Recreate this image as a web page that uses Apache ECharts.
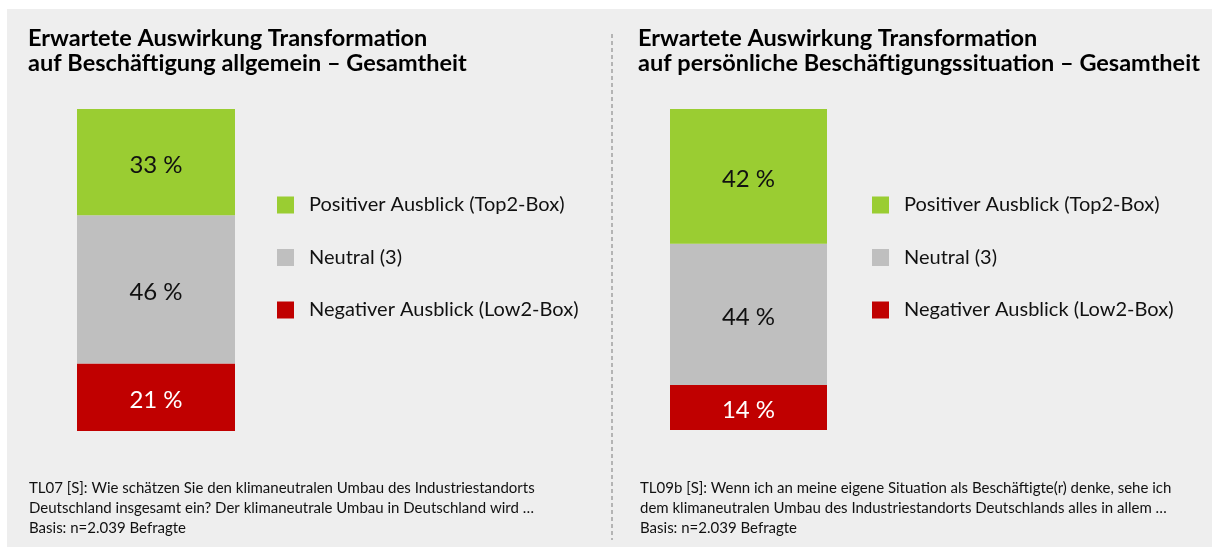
<!DOCTYPE html>
<html>
<head>
<meta charset="utf-8">
<script src="https://cdn.jsdelivr.net/npm/echarts@6/dist/echarts.min.js"></script>
<style>
  html, body { margin: 0; padding: 0; background: #fff; }
  #chart { width: 1212px; height: 547px; }
</style>
</head>
<body>
<div id="chart"></div>
<script>
// Daten
var categories = ['Gesamtheit'];
var seriesNames = ['Positiver Ausblick (Top2-Box)', 'Neutral (3)', 'Negativer Ausblick (Low2-Box)'];
var allgemeinValues = [33, 46, 21];
var persoenlichValues = [42, 44, 14];
var seriesColors = ['#9acd32', '#bfbfbf', '#c00000'];
var labelColors = ['#111', '#111', '#fff'];

var titles = [
  'Erwartete Auswirkung Transformation\nauf Beschäftigung allgemein – Gesamtheit',
  'Erwartete Auswirkung Transformation\nauf persönliche Beschäftigungssituation – Gesamtheit'
];
var footnotes = [
  'TL07 [S]: Wie schätzen Sie den klimaneutralen Umbau des Industriestandorts\nDeutschland insgesamt ein? Der klimaneutrale Umbau in Deutschland wird …\nBasis: n=2.039 Befragte',
  'TL09b [S]: Wenn ich an meine eigene Situation als Beschäftigte(r) denke, sehe ich\ndem klimaneutralen Umbau des Industriestandorts Deutschlands alles in allem …\nBasis: n=2.039 Befragte'
];

var font = 'Lato';
var chart = echarts.init(document.getElementById('chart'));

function buildSeries(values, idx) {
  var out = [];
  // von unten nach oben stapeln: negativ, neutral, positiv
  for (var i = values.length - 1; i >= 0; i--) {
    out.push({
      name: seriesNames[i],
      type: 'bar',
      stack: 'stack' + idx,
      xAxisIndex: idx,
      yAxisIndex: idx,
      barWidth: '100%',
      itemStyle: { color: seriesColors[i] },
      label: {
        show: true,
        position: 'inside',
        offset: [0, 3],
        formatter: '{c} %',
        fontFamily: font,
        fontSize: 24,
        color: labelColors[i]
      },
      data: [values[i]]
    });
  }
  return out;
}

function legend(left) {
  return {
    orient: 'vertical',
    left: left,
    top: 190,
    icon: 'rect',
    itemWidth: 17,
    itemHeight: 17,
    itemGap: 32.5,
    selectedMode: false,
    data: seriesNames,
    textStyle: {
      fontFamily: font,
      fontSize: 20,
      lineHeight: 17,
      color: '#111',
      padding: [0, 0, 0, 10]
    }
  };
}

var titleStyle = { fontFamily: font, fontWeight: 'bold', fontSize: 23.5, lineHeight: 25, color: '#000' };
var noteStyle = { fontFamily: font, fontWeight: 'normal', fontSize: 15, lineHeight: 20, color: '#111' };

chart.setOption({
  animation: false,
  backgroundColor: '#fff',
  title: [
    { text: titles[0], left: 28, top: 26, padding: 0, textStyle: titleStyle },
    { text: titles[1], left: 638, top: 26, padding: 0, textStyle: titleStyle },
    { text: footnotes[0], left: 29, top: 478, padding: 0, textStyle: noteStyle },
    { text: footnotes[1], left: 640, top: 478, padding: 0, textStyle: noteStyle }
  ],
  legend: [legend(272), legend(867)],
  grid: [
    { left: 77, top: 109, width: 158, height: 322 },
    { left: 670, top: 109, width: 157, height: 321 }
  ],
  xAxis: [
    { type: 'category', gridIndex: 0, data: categories, show: false },
    { type: 'category', gridIndex: 1, data: categories, show: false }
  ],
  yAxis: [
    { type: 'value', gridIndex: 0, min: 0, max: 100, show: false },
    { type: 'value', gridIndex: 1, min: 0, max: 100, show: false }
  ],
  graphic: [
    { type: 'rect', z: -10, shape: { x: 7, y: 9, width: 1205, height: 538 }, style: { fill: '#eeeeee' } },
    { type: 'line', z: -5, shape: { x1: 612, y1: 34, x2: 612, y2: 540 }, style: { stroke: '#b4b4b4', lineWidth: 2, lineDash: [4, 3] } }
  ],
  series: buildSeries(allgemeinValues, 0).concat(buildSeries(persoenlichValues, 1))
});
</script>
</body>
</html>
